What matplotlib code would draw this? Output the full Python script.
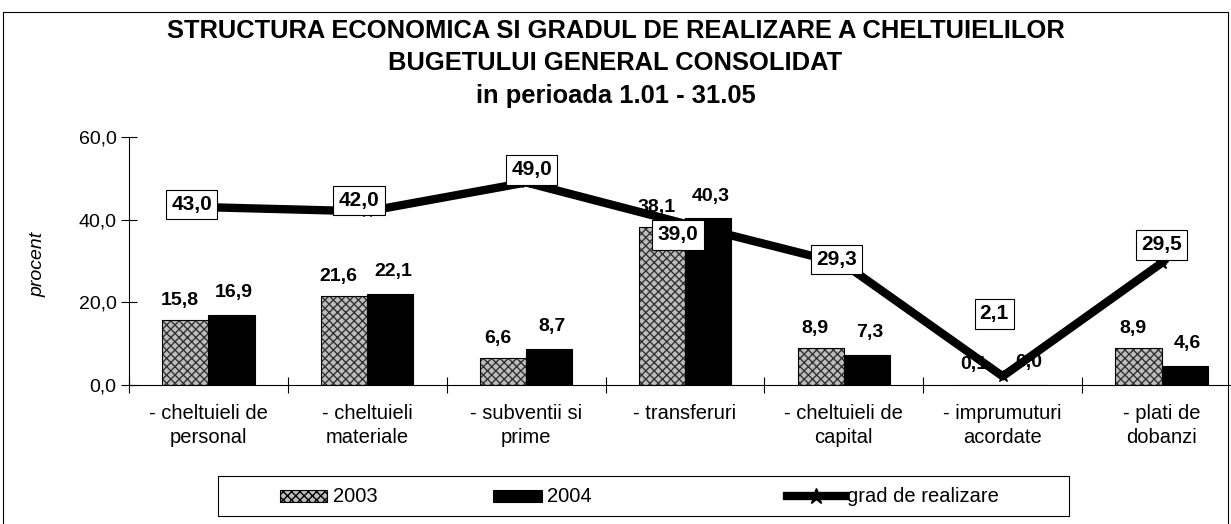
import numpy as np
import matplotlib
matplotlib.use("Agg")
import matplotlib.pyplot as plt
from matplotlib.patches import Rectangle
from matplotlib.lines import Line2D

plt.rcParams['font.family'] = ['Liberation Sans', 'DejaVu Sans']

categories = ['- cheltuieli de\npersonal', '- cheltuieli\nmateriale', '- subventii si\nprime',
              '- transferuri', '- cheltuieli de\ncapital', '- imprumuturi\nacordate', '- plati de\ndobanzi']
val_2003 = [15.8, 21.6, 6.6, 38.1, 8.9, 0.1, 8.9]
val_2004 = [16.9, 22.1, 8.7, 40.3, 7.3, 0.0, 4.6]
grad = [43.0, 42.0, 49.0, 39.0, 29.3, 2.1, 29.5]
series_names = ['2003', '2004', 'grad de realizare']

# where the boxed labels of the line sit, in points from the point
grad_offsets = [(-12, 2), (-6, 8), (4, 9), (-5, -8), (-5, 3), (-6, 45), (0, 13)]


def fmt(v):
    return f"{v:.1f}".replace('.', ',')


fig = plt.figure(figsize=(12.31, 5.24), dpi=100)
ax = fig.add_axes([0.1048, 0.2653, 0.9033, 0.4733])

x = np.arange(len(categories))
w = 0.29

# 2003: stippled grey, drawn as hatch then outlined
ax.bar(x - w / 2, val_2003, w, color='#bdbdbd', hatch='xxxx', edgecolor='#333333', linewidth=0, zorder=2)
ax.bar(x - w / 2, val_2003, w, fill=False, edgecolor='black', linewidth=0.8, zorder=3)
ax.bar(x + w / 2, val_2004, w, color='black', edgecolor='black', linewidth=0.8, zorder=3)

for xi, v in zip(x, val_2003):
    ax.annotate(fmt(v), (xi - w / 2, v), xytext=(-4, 8), textcoords='offset points',
                ha='center', va='bottom', fontsize=14, fontweight='bold', zorder=5)
for xi, v in zip(x, val_2004):
    ax.annotate(fmt(v), (xi + w / 2, v), xytext=(2, 10), textcoords='offset points',
                ha='center', va='bottom', fontsize=14, fontweight='bold', zorder=5)

ax.plot(x, grad, color='black', linewidth=6, marker='*', markersize=9,
        solid_joinstyle='round', zorder=4)
for xi, v, off in zip(x, grad, grad_offsets):
    ax.annotate(fmt(v), (xi, v), xytext=off, textcoords='offset points',
                ha='center', va='center', fontsize=15, fontweight='bold', zorder=6,
                bbox=dict(boxstyle='square,pad=0.25', fc='white', ec='black', lw=0.8))

ax.set_xlim(-0.5, len(categories) - 0.5)
ax.set_ylim(0, 60)
ax.set_yticks([0, 20, 40, 60])
ax.set_yticklabels([fmt(t) for t in [0, 20, 40, 60]], fontsize=14)
ax.tick_params(axis='y', direction='inout', length=12, width=0.8, pad=3)

ax.set_xticks(np.arange(len(categories) + 1) - 0.5)
ax.set_xticklabels([])
ax.tick_params(axis='x', which='major', direction='inout', length=12, width=0.8)
ax.set_xticks(x, minor=True)
ax.set_xticklabels(categories, minor=True, fontsize=14.5, linespacing=1.3)
ax.tick_params(axis='x', which='minor', length=0, pad=14)

for s in ['top', 'right']:
    ax.spines[s].set_visible(False)
ax.spines['left'].set_linewidth(0.8)
ax.spines['bottom'].set_linewidth(0.8)

fig.text(0.031, 0.495, 'procent', rotation=90, style='italic', fontsize=14, ha='center', va='center')

fig.text(0.5, 0.94, 'STRUCTURA ECONOMICA SI GRADUL DE REALIZARE A CHELTUIELILOR',
         ha='center', va='center', fontsize=18.4, fontweight='bold')
fig.text(0.5, 0.879, 'BUGETULUI GENERAL CONSOLIDAT',
         ha='center', va='center', fontsize=18.4, fontweight='bold')
fig.text(0.5, 0.816, 'in perioada 1.01 - 31.05',
         ha='center', va='center', fontsize=18.4, fontweight='bold')

# legend, laid out like the original (columns are not evenly spaced)
fig.add_artist(Rectangle((0.1771, 0.0153), 0.6913, 0.0763, transform=fig.transFigure,
                         fill=False, edgecolor='black', linewidth=0.8))
ly = 0.0534
fig.add_artist(Rectangle((0.2275, ly - 0.0115), 0.0381, 0.023, transform=fig.transFigure,
                         facecolor='#bdbdbd', hatch='xxxx', edgecolor='black', linewidth=0.8))
fig.add_artist(Rectangle((0.4005, ly - 0.0115), 0.0398, 0.023, transform=fig.transFigure,
                         facecolor='black', edgecolor='black', linewidth=0.8))
fig.add_artist(Line2D([0.6393, 0.6864], [ly, ly], transform=fig.transFigure, color='black',
                      linewidth=6))
fig.add_artist(Line2D([0.6628], [ly], transform=fig.transFigure, color='black',
                      marker='*', markersize=12))
for tx, name in zip([0.2705, 0.4444, 0.688], series_names):
    fig.text(tx, ly, name, ha='left', va='center', fontsize=14.5)

fig.add_artist(Rectangle((0.0025, -0.01), 0.995, 0.988, transform=fig.transFigure,
                         fill=False, edgecolor='black', linewidth=0.8))

fig.savefig('out.png', dpi=100)
